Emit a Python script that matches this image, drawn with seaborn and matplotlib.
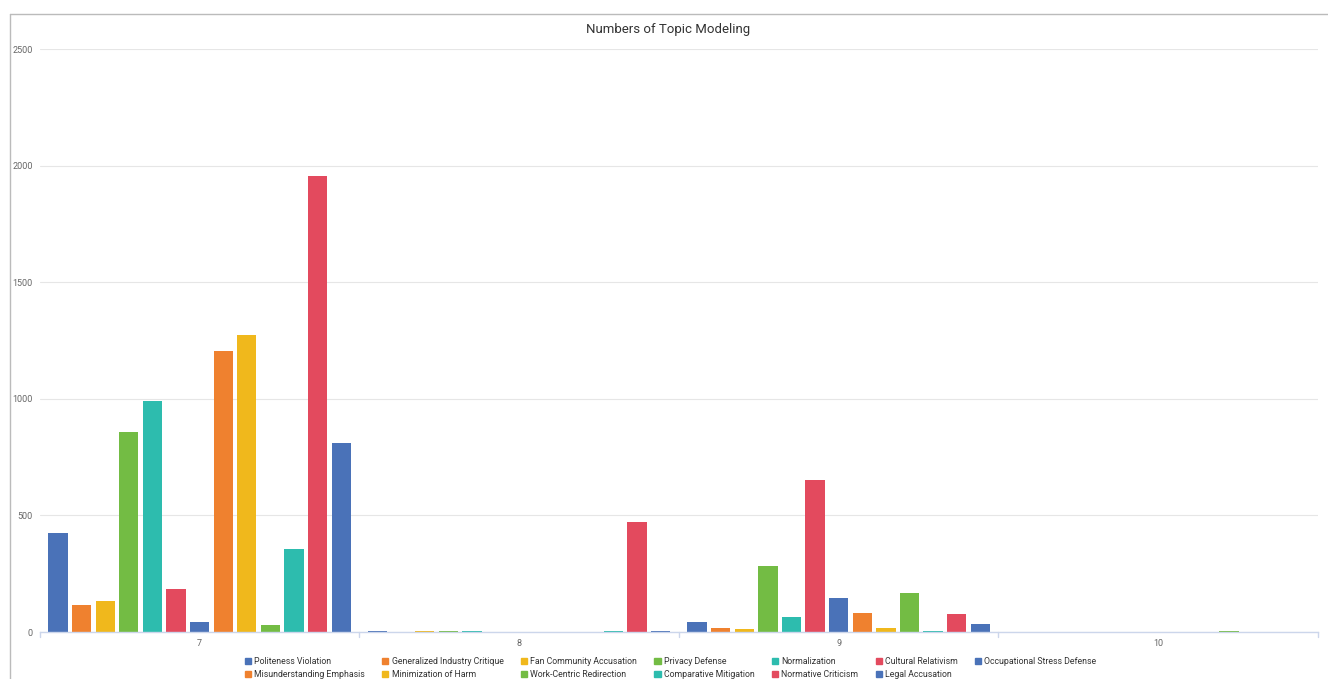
import pandas as pd
import matplotlib.pyplot as plt
import matplotlib.patches as mpatches
from matplotlib.lines import Line2D
import seaborn as sns

# Data
groups = ['7', '8', '9', '10']
topics = ['Politeness Violation', 'Generalized Industry Critique', 'Fan Community Accusation',
          'Privacy Defense', 'Normalization', 'Cultural Relativism', 'Occupational Stress Defense',
          'Misunderstanding Emphasis', 'Minimization of Harm', 'Work-Centric Redirection',
          'Comparative Mitigation', 'Normative Criticism', 'Legal Accusation']
counts_7 = [424, 115, 135, 858, 990, 185, 44, 1205, 1275, 32, 357, 1957, 811]
counts_8 = [3, 0, 4, 4, 5, 0, 0, 0, 0, 0, 5, 472, 3]
counts_9 = [43, 17, 13, 283, 64, 652, 146, 82, 17, 167, 4, 77, 34]
counts_10 = [0, 0, 0, 0, 0, 0, 0, 0, 0, 5, 0, 0, 0]
colors = ['#4a72b8', '#ef812f', '#f0b81c', '#73bc44', '#2dbcae', '#e34a5e', '#4a72b8',
          '#ef812f', '#f0b81c', '#73bc44', '#2dbcae', '#e34a5e', '#4a72b8']

rows = []
for g, vals in zip(groups, [counts_7, counts_8, counts_9, counts_10]):
    for t, v in zip(topics, vals):
        rows.append({'group': g, 'topic': t, 'count': v})
df = pd.DataFrame(rows)

sns.set_style('white')
plt.rcParams['font.family'] = ['Roboto', 'DejaVu Sans']

fig = plt.figure(figsize=(13.28, 6.79), dpi=100)
ax = fig.add_axes([0.030, 0.0692, 0.9625, 0.8586])

sns.barplot(data=df, x='group', y='count', hue='topic', order=groups, hue_order=topics,
            palette=colors, saturation=1, width=0.96, gap=0.18, linewidth=0,
            legend=False, ax=ax)

ax.set_ylim(0, 2500)
ax.set_xlim(-0.5, 3.5)
ax.set_yticks([0, 500, 1000, 1500, 2000, 2500])
ax.yaxis.grid(True, color='#e6e6e6', linewidth=0.8)
ax.set_axisbelow(True)
ax.set_xlabel('')
ax.set_ylabel('')
for s in ['top', 'right', 'left']:
    ax.spines[s].set_visible(False)
ax.spines['bottom'].set_color('#ccd6eb')
ax.spines['bottom'].set_linewidth(1)
ax.tick_params(axis='y', length=0, labelsize=6.5, labelcolor='#666666', pad=5)
ax.tick_params(axis='x', length=0, labelsize=6.5, labelcolor='#666666', pad=5)

# small tick marks at category boundaries
for b in [-0.5, 0.5, 1.5, 2.5, 3.5]:
    ax.add_line(Line2D([b, b], [0, -0.008], transform=ax.get_xaxis_transform(),
                       color='#ccd6eb', linewidth=1, clip_on=False))

fig.text(0.503, 1 - 29 / 679, 'Numbers of Topic Modeling', ha='center', va='center',
         fontsize=9.5, color='#333333')

# card border (top and left edges)
fig.add_artist(Line2D([10 / 1328, 1], [1 - 14 / 679, 1 - 14 / 679], transform=fig.transFigure,
                      color='#bbbbbb', linewidth=1))
fig.add_artist(Line2D([10 / 1328, 10 / 1328], [0, 1 - 14 / 679], transform=fig.transFigure,
                      color='#bbbbbb', linewidth=1))

# legend, two rows laid out column by column
row1 = list(range(7))
row2 = list(range(7, 13))
order = []
for i in range(7):
    order.append(row1[i])
    if i < len(row2):
        order.append(row2[i])
handles = [mpatches.Patch(color=colors[i], label=topics[i]) for i in order]
fig.legend(handles=handles, loc='upper center', bbox_to_anchor=(0.505, 1 - 653 / 679),
           ncol=7, frameon=False, fontsize=6.3, handlelength=0.7, handleheight=0.7,
           handletextpad=0.35, columnspacing=2.0, labelspacing=0.45, borderpad=0,
           labelcolor='#333333')

fig.savefig('out.png', dpi=100)
